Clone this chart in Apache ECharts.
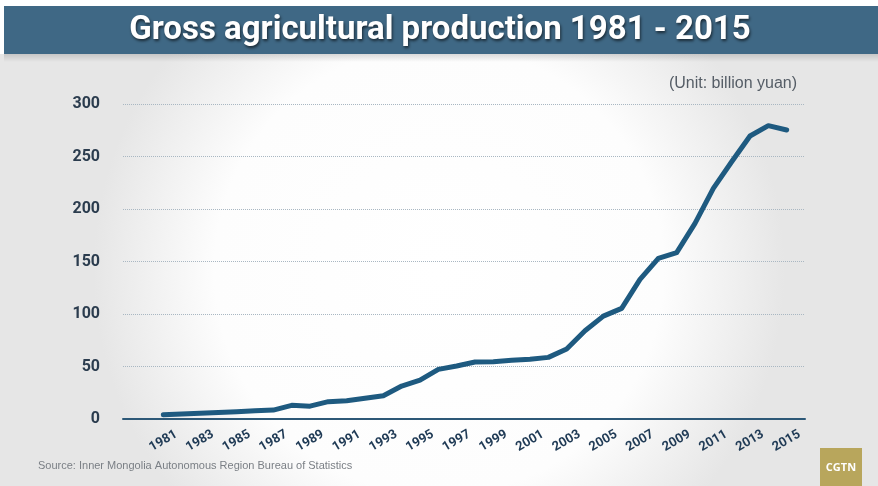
<!DOCTYPE html>
<html>
<head>
<meta charset="utf-8">
<script src="https://cdn.jsdelivr.net/npm/echarts@6/dist/echarts.min.js"></script>
<style>html,body{margin:0;padding:0;background:#fff}#c{width:878px;height:486px}</style>
</head>
<body>
<div id="c"></div>
<script>
const years = [1981,1982,1983,1984,1985,1986,1987,1988,1989,1990,1991,1992,1993,1994,1995,1996,1997,1998,1999,2000,2001,2002,2003,2004,2005,2006,2007,2008,2009,2010,2011,2012,2013,2014,2015];
const production = [4,4.8,5.5,6.3,7,7.8,8.5,13,12.2,16.5,17.4,19.7,22.2,31.4,37,47.3,50.5,54.3,54.6,55.9,57,58.7,66.7,84,98,105.4,133,153,158.4,186.3,219.7,245,269.5,279.4,275.2];
const yearLabels = [1981,1983,1985,1987,1989,1991,1993,1995,1997,1999,2001,2003,2005,2007,2009,2011,2013,2015];
const yTicks = [0,50,100,150,200,250,300];
const titleText = 'Gross agricultural production 1981 - 2015';
const unitText = '(Unit: billion yuan)';
const sourceText = 'Source: Inner Mongolia Autonomous Region Bureau of Statistics';

const chart = echarts.init(document.getElementById('c'), null, {renderer: 'canvas'});
chart.setOption({
  animation: false,
  backgroundColor: '#ffffff',
  graphic: [
    {type:'rect', z:-10, silent:true, shape:{x:0,y:54,width:878,height:432},
     style:{fill:{type:'radial',x:0.5,y:0.5,r:0.8,colorStops:[{offset:0,color:'#ffffff'},{offset:0.65,color:'#fdfdfd'},{offset:1,color:'#e6e6e6'}]}}},
    {type:'rect', z:-9, silent:true, shape:{x:4,y:54,width:874,height:8},
     style:{fill:{type:'linear',x:0,y:0,x2:0,y2:1,colorStops:[{offset:0,color:'rgba(0,0,0,0.14)'},{offset:1,color:'rgba(0,0,0,0)'}]}}},
    {type:'rect', z:10, silent:true, shape:{x:4,y:6,width:874,height:48}, style:{fill:'#3f6885'}},
    {type:'text', z:11, silent:true, x:440, y:31,
     style:{text:titleText, fill:'#ffffff', font:'bold 33px Roboto, "Liberation Sans", sans-serif', align:'center', verticalAlign:'middle',
            textShadowColor:'rgba(0,0,0,0.6)', textShadowBlur:3, textShadowOffsetX:1, textShadowOffsetY:2}},
    {type:'text', z:11, silent:true, x:797, y:84,
     style:{text:unitText, fill:'#555d66', font:'16px "Liberation Sans", Arial, sans-serif', align:'right', verticalAlign:'middle'}},
    {type:'text', z:11, left:38, top:460, silent:true,
     style:{text:sourceText, fill:'#7a7f85', font:'11px "Liberation Sans", Arial, sans-serif'}},
    {type:'rect', z:11, silent:true, shape:{x:820,y:448,width:42,height:38}, style:{fill:'#b8a65c'}},
    {type:'text', z:12, silent:true, x:841, y:468,
     style:{text:'CGTN', fill:'#ffffff', font:'bold 11px "Open Sans", Arial, sans-serif', align:'center', verticalAlign:'middle'}}
  ],
  grid: {left:123, right:73, top:104, bottom:67, containLabel:false},
  xAxis: {
    type:'value', min:1978.8, max:2016,
    axisLine:{show:true, lineStyle:{color:'#2d5877', width:2}},
    axisTick:{show:false},
    splitLine:{show:false},
    axisLabel:{
      customValues: yearLabels,
      rotate:30, align:'center', verticalAlign:'middle', margin:22,
      color:'#1f3a55', fontFamily:'Roboto, sans-serif', fontWeight:'bold', fontSize:13,
      formatter: v => String(v)
    }
  },
  yAxis: {
    type:'value', min:0, max:300, interval:50,
    axisLine:{show:false}, axisTick:{show:false},
    splitLine:{show:true, lineStyle:{color:'#a9b7c2', type:[1,1], width:1}},
    axisLabel:{
      customValues: yTicks,
      margin:23, color:'#2b3c4e', fontFamily:'Roboto, sans-serif', fontWeight:'bold', fontSize:16
    }
  },
  series: [{
    type:'line',
    data: years.map((y,i)=>[y, production[i]]),
    showSymbol:false, symbol:'none',
    lineStyle:{color:'#1e5a80', width:5, cap:'round', join:'round'},
    z:5
  }]
});
</script>
</body>
</html>
